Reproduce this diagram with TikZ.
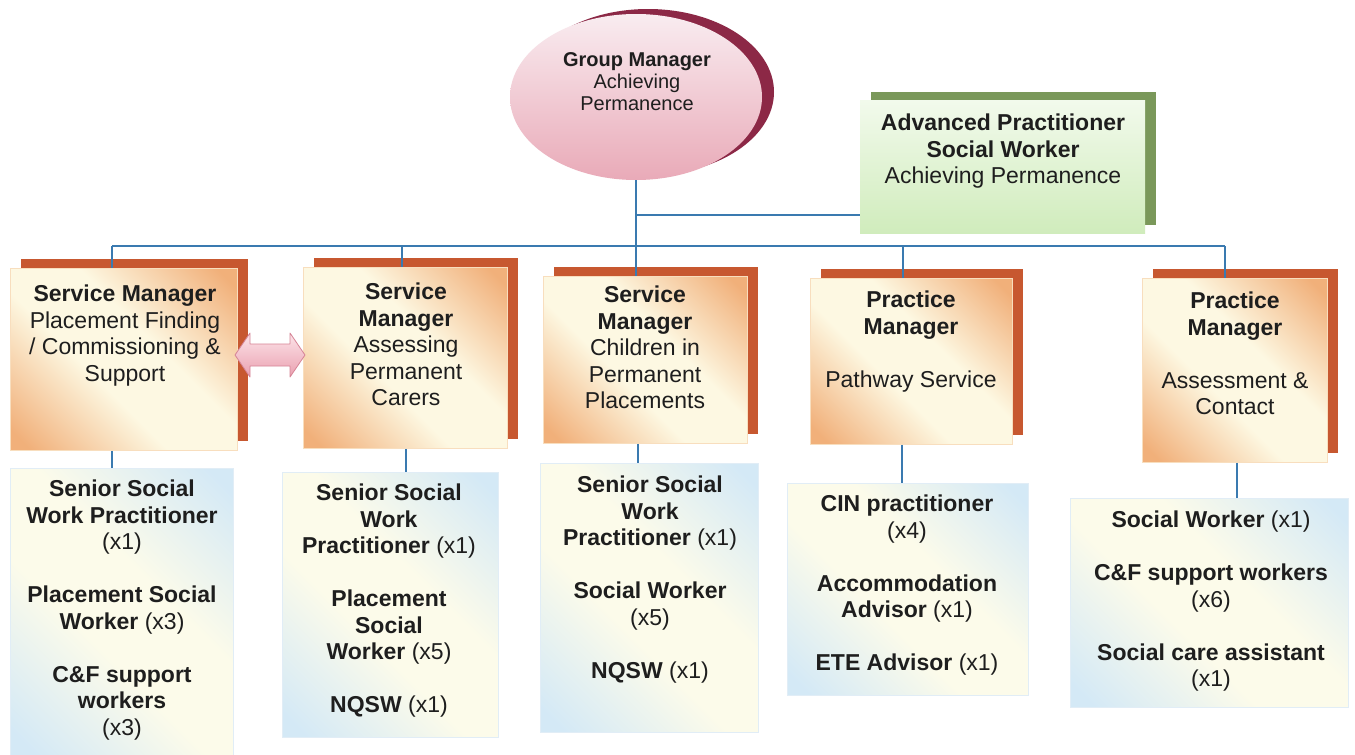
\documentclass[tikz,border=0pt]{standalone}
\usepackage{fontspec}
\setmainfont{Liberation Sans}
\usetikzlibrary{shapes.geometric,shadows,calc}
\definecolor{rust}{RGB}{199,88,48}
\definecolor{orng}{RGB}{241,176,122}
\definecolor{cream}{RGB}{253,248,226}
\definecolor{oedge}{RGB}{248,222,190}
\definecolor{bluec}{RGB}{212,233,246}
\definecolor{creamb}{RGB}{252,251,234}
\definecolor{gshadow}{RGB}{122,152,90}
\definecolor{gtop}{RGB}{242,250,236}
\definecolor{gbot}{RGB}{208,236,188}
\definecolor{ptop}{RGB}{249,236,240}
\definecolor{pbot}{RGB}{233,170,184}
\definecolor{maroon}{RGB}{140,40,70}
\definecolor{lineblue}{RGB}{58,122,176}
\definecolor{textc}{RGB}{30,30,30}
\definecolor{arrtop}{RGB}{252,228,233}
\definecolor{arrbot}{RGB}{234,160,176}
\definecolor{arrdraw}{RGB}{214,132,150}
\pgfdeclareverticalshading{orshade}{100bp}{color(0bp)=(orng);color(18bp)=(orng);color(42bp)=(cream);color(58bp)=(cream);color(82bp)=(orng);color(100bp)=(orng)}
\pgfdeclareverticalshading{blshade}{100bp}{color(0bp)=(bluec);color(18bp)=(bluec);color(42bp)=(creamb);color(58bp)=(creamb);color(82bp)=(bluec);color(100bp)=(bluec)}
\begin{document}
\begin{tikzpicture}[x=1pt,y=-1pt,
  obox/.style={rectangle,anchor=north west,inner sep=0pt,shading=orshade,shading angle=-45,
    draw=oedge,line width=0.8pt,
    general shadow={fill=rust,draw=none,shadow xshift=11pt,shadow yshift=9pt}},
  lbox/.style={rectangle,anchor=north west,inner sep=0pt,shading=blshade,shading angle=-45,
    draw=bluec!80!lineblue!40,line width=0.6pt},
  gbox/.style={rectangle,anchor=north west,inner sep=0pt,top color=gtop,bottom color=gbot,
    general shadow={fill=gshadow,shadow xshift=11pt,shadow yshift=8pt}},
  gell/.style={ellipse,inner sep=0pt,top color=ptop,bottom color=pbot,
    general shadow={fill=maroon,shadow xshift=12pt,shadow yshift=5pt}},
  txt/.style={anchor=north,inner sep=0pt,align=center,font=\fontsize{23}{26.5}\selectfont,text=textc},
  gtxt/.style={anchor=north,inner sep=0pt,align=center,font=\fontsize{20}{22}\selectfont,text=textc},
  conn/.style={draw=lineblue,line width=1.3pt},
  fatarrow/.style={top color=arrtop,bottom color=arrbot,draw=arrdraw,line width=0.8pt,line join=round}]
\useasboundingbox (0,0) rectangle (1355,755);
\fill[white] (0,0) rectangle (1355,755);

% top level
\node[gell,minimum width=252pt,minimum height=166pt] (gm) at (636,97) {};
\node[gbox,minimum width=285pt,minimum height=133pt] (ap) at (860,100) {};

% managers
\node[obox,minimum width=227pt,minimum height=182pt] (b1) at (10,268) {};
\node[obox,minimum width=204pt,minimum height=181pt] (b2) at (303,267) {};
\node[obox,minimum width=204pt,minimum height=167pt] (b3) at (543,276) {};
\node[obox,minimum width=202pt,minimum height=166pt] (b4) at (810,278) {};
\node[obox,minimum width=185pt,minimum height=184pt] (b5) at (1142,278) {};

% teams
\node[lbox,minimum width=223pt,minimum height=287pt] (lb1) at (10,468) {};
\node[lbox,minimum width=216pt,minimum height=265pt] (lb2) at (282,472) {};
\node[lbox,minimum width=218pt,minimum height=269pt] (lb3) at (540,463) {};
\node[lbox,minimum width=241pt,minimum height=212pt] (lb4) at (787,483) {};
\node[lbox,minimum width=278pt,minimum height=209pt] (lb5) at (1070,498) {};

% texts
\node[gtxt] (tgm) at (637,52) {\textbf{Group Manager}\\Achieving\\Permanence};
\node[txt] (tap) at (1003,114) {\textbf{Advanced Practitioner}\\\textbf{Social Worker}\\Achieving Permanence};
\node[txt] (t1) at (125,285) {\textbf{Service Manager}\\Placement Finding\\/ Commissioning \&\\Support};
\node[txt] (t2) at (406,283) {\textbf{Service}\\\textbf{Manager}\\Assessing\\Permanent\\Carers};
\node[txt] (t3) at (645,286) {\textbf{Service}\\\textbf{Manager}\\Children in\\Permanent\\Placements};
\node[txt] (t4) at (911,291) {\textbf{Practice}\\\textbf{Manager}\\[26.5pt]Pathway Service};
\node[txt] (t5) at (1235,292) {\textbf{Practice}\\\textbf{Manager}\\[26.5pt]Assessment \&\\Contact};

\node[txt] (tl1) at (122,480) {\textbf{Senior Social}\\\textbf{Work Practitioner}\\(x1)\\[26.5pt]\textbf{Placement Social}\\\textbf{Worker} (x3)\\[26.5pt]\textbf{C\&F support}\\\textbf{workers}\\(x3)};
\node[txt] (tl2) at (389,484) {\textbf{Senior Social}\\\textbf{Work}\\\textbf{Practitioner} (x1)\\[26.5pt]\textbf{Placement}\\\textbf{Social}\\\textbf{Worker} (x5)\\[26.5pt]\textbf{NQSW} (x1)};
\node[txt] (tl3) at (650,476) {\textbf{Senior Social}\\\textbf{Work}\\\textbf{Practitioner} (x1)\\[26.5pt]\textbf{Social Worker}\\(x5)\\[26.5pt]\textbf{NQSW} (x1)};
\node[txt] (tl4) at (907,495) {\textbf{CIN practitioner}\\(x4)\\[26.5pt]\textbf{Accommodation}\\\textbf{Advisor} (x1)\\[26.5pt]\textbf{ETE Advisor} (x1)};
\node[txt] (tl5) at (1211,511) {\textbf{Social Worker} (x1)\\[26.5pt]\textbf{C\&F support workers}\\(x6)\\[26.5pt]\textbf{Social care assistant}\\(x1)};

% connectors
\coordinate (br) at (0,215);
\coordinate (hl) at (112,246);
\coordinate (hr) at (1225,246);
\coordinate (d2) at (402,246);
\coordinate (d4) at (903,246);
\draw[conn] (gm.south) -- (gm.south |- b3.north);
\draw[conn] (gm.south |- br) -- (ap.west |- br);
\draw[conn] (hl) -- (hr);
\draw[conn] (hl) -- (hl |- b1.north);
\draw[conn] (d2) -- (d2 |- b2.north);
\draw[conn] (d4) -- (d4 |- b4.north);
\draw[conn] (hr) -- (hr |- b5.north);

\coordinate (u1) at (112,0);
\coordinate (u2) at (406,0);
\coordinate (u3) at (638,0);
\coordinate (u4) at (902,0);
\coordinate (u5) at (1237,0);
\draw[conn] (b1.south -| u1) -- (lb1.north -| u1);
\draw[conn] (b2.south -| u2) -- (lb2.north -| u2);
\draw[conn] (b3.south -| u3) -- (lb3.north -| u3);
\draw[conn] (b4.south -| u4) -- (lb4.north -| u4);
\draw[conn] (b5.south -| u5) -- (lb5.north -| u5);

% double arrow between b1 and b2
\coordinate (al) at (235,355);
\coordinate (ar) at (305,355);
\path[fatarrow] (al) -- ++(15,-22) -- ++(0,11) -- ++(40,0) -- ++(0,-11) -- (ar)
  -- ++(-15,22) -- ++(0,-11) -- ++(-40,0) -- ++(0,11) -- cycle;
\end{tikzpicture}
\end{document}
